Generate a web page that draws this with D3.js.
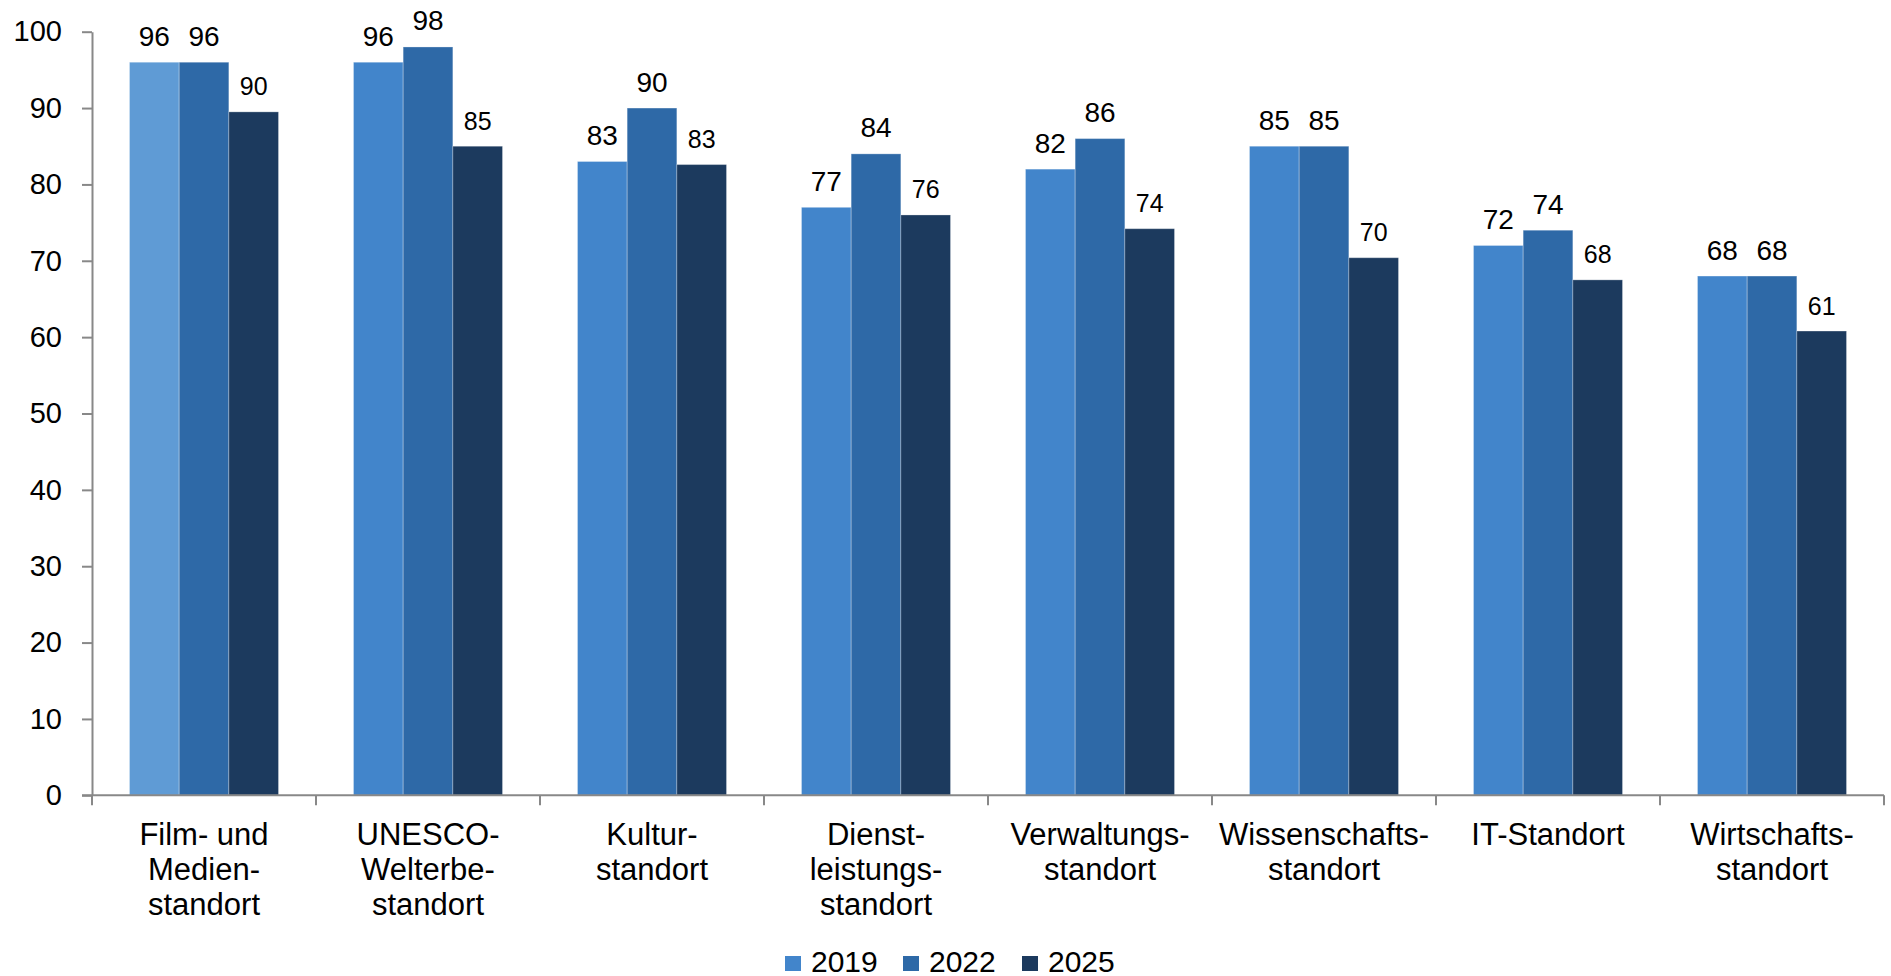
<!DOCTYPE html>
<html>
<head>
<meta charset="utf-8">
<script src="https://cdn.jsdelivr.net/npm/d3@7"></script>
<style>
  html, body { margin: 0; padding: 0; background: #ffffff; }
  svg { display: block; font-family: "Liberation Sans", Arial, sans-serif; }
</style>
</head>
<body>
<svg id="chart" width="1891" height="976"></svg>
<script>
// Standort-Bewertung nach Kategorie und Erhebungsjahr
const categories = [
  ["Film- und", "Medien-", "standort"],
  ["UNESCO-", "Welterbe-", "standort"],
  ["Kultur-", "standort"],
  ["Dienst-", "leistungs-", "standort"],
  ["Verwaltungs-", "standort"],
  ["Wissenschafts-", "standort"],
  ["IT-Standort"],
  ["Wirtschafts-", "standort"]
];
const seriesNames = ["2019", "2022", "2025"];
const values2019 = [96, 96, 83, 77, 82, 85, 72, 68];
const values2022 = [96, 98, 90, 84, 86, 85, 74, 68];
const values2025 = [89.5, 85, 82.6, 76, 74.2, 70.4, 67.5, 60.8];
const yTicks = [0, 10, 20, 30, 40, 50, 60, 70, 80, 90, 100];

const seriesValues = [values2019, values2022, values2025];
const colors = ["#4285CB", "#2E69A7", "#1C3A5E"];
const firstBarColor = "#5F9BD5";

const svg = d3.select("#chart");
const plotLeft = 92, plotRight = 1884, plotTop = 31.7, plotBottom = 795.3;

const catKeys = categories.map((c, i) => i);
const x = d3.scaleBand().domain(catKeys).range([plotLeft, plotRight]).padding(0);
const xInner = d3.scaleBand().domain(seriesNames).range([0, x.bandwidth()])
  .paddingInner(0).paddingOuter(0.755);
const y = d3.scaleLinear().domain([0, 100]).range([plotBottom, plotTop]);

const axisColor = "#888888";

// Y axis
const yAxis = svg.append("g")
  .attr("transform", `translate(${plotLeft},0)`)
  .call(d3.axisLeft(y).tickValues(yTicks).tickSize(10).tickPadding(20).tickSizeOuter(0));
yAxis.select(".domain").attr("stroke", axisColor).attr("stroke-width", 2);
yAxis.selectAll(".tick line").attr("stroke", axisColor).attr("stroke-width", 2);
yAxis.selectAll(".tick text")
  .attr("fill", "#000").style("font-size", "29px")
  .style("font-family", "'Liberation Sans', Arial, sans-serif");

// Bars
const rows = [];
catKeys.forEach(ci => {
  seriesNames.forEach((s, si) => {
    rows.push({ ci, s, si, v: seriesValues[si][ci] });
  });
});

svg.append("g").selectAll("rect")
  .data(rows)
  .join("rect")
  .attr("x", d => x(d.ci) + xInner(d.s))
  .attr("y", d => y(d.v))
  .attr("width", xInner.bandwidth())
  .attr("height", d => y(0) - y(d.v))
  .attr("fill", d => (d.ci === 0 && d.si === 0) ? firstBarColor : colors[d.si])
  .attr("stroke", "rgba(255,255,255,0.28)")
  .attr("stroke-width", 1);

// X axis (baseline and category separators)
const xAxisG = svg.append("g");
xAxisG.append("line")
  .attr("x1", plotLeft - 10).attr("x2", plotRight)
  .attr("y1", plotBottom).attr("y2", plotBottom)
  .attr("stroke", axisColor).attr("stroke-width", 2);
const sepPositions = catKeys.map(ci => x(ci)).concat([plotRight]);
xAxisG.selectAll("line.sep")
  .data(sepPositions)
  .join("line")
  .attr("class", "sep")
  .attr("x1", d => d).attr("x2", d => d)
  .attr("y1", plotBottom).attr("y2", plotBottom + 10)
  .attr("stroke", axisColor).attr("stroke-width", 2);

// Category labels
const fmt = d3.format(".0f");
const catLabels = svg.append("g").selectAll("text")
  .data(categories)
  .join("text")
  .attr("text-anchor", "middle")
  .attr("fill", "#000")
  .style("font-size", "31px");
catLabels.each(function (lines, ci) {
  d3.select(this).selectAll("tspan")
    .data(lines)
    .join("tspan")
    .attr("x", x(ci) + x.bandwidth() / 2)
    .attr("y", (d, li) => 845 + li * 35)
    .text(d => d);
});

// Value labels
svg.append("g").selectAll("text")
  .data(rows)
  .join("text")
  .attr("x", d => x(d.ci) + xInner(d.s) + xInner.bandwidth() / 2)
  .attr("y", d => y(d.v) - 16.5)
  .attr("text-anchor", "middle")
  .attr("fill", "#000")
  .style("font-size", d => d.si === 2 ? "25px" : "28px")
  .text(d => fmt(d.v));

// Legend
const legendX = [785, 903, 1022];
const legend = svg.append("g").selectAll("g")
  .data(seriesNames)
  .join("g")
  .attr("transform", (d, i) => `translate(${legendX[i]},0)`);
legend.append("rect")
  .attr("x", 0).attr("y", 956)
  .attr("width", 16).attr("height", 15)
  .attr("fill", (d, i) => colors[i]);
legend.append("text")
  .attr("x", 26).attr("y", 972)
  .attr("fill", "#000")
  .style("font-size", "30px")
  .text(d => d);
</script>
</body>
</html>
